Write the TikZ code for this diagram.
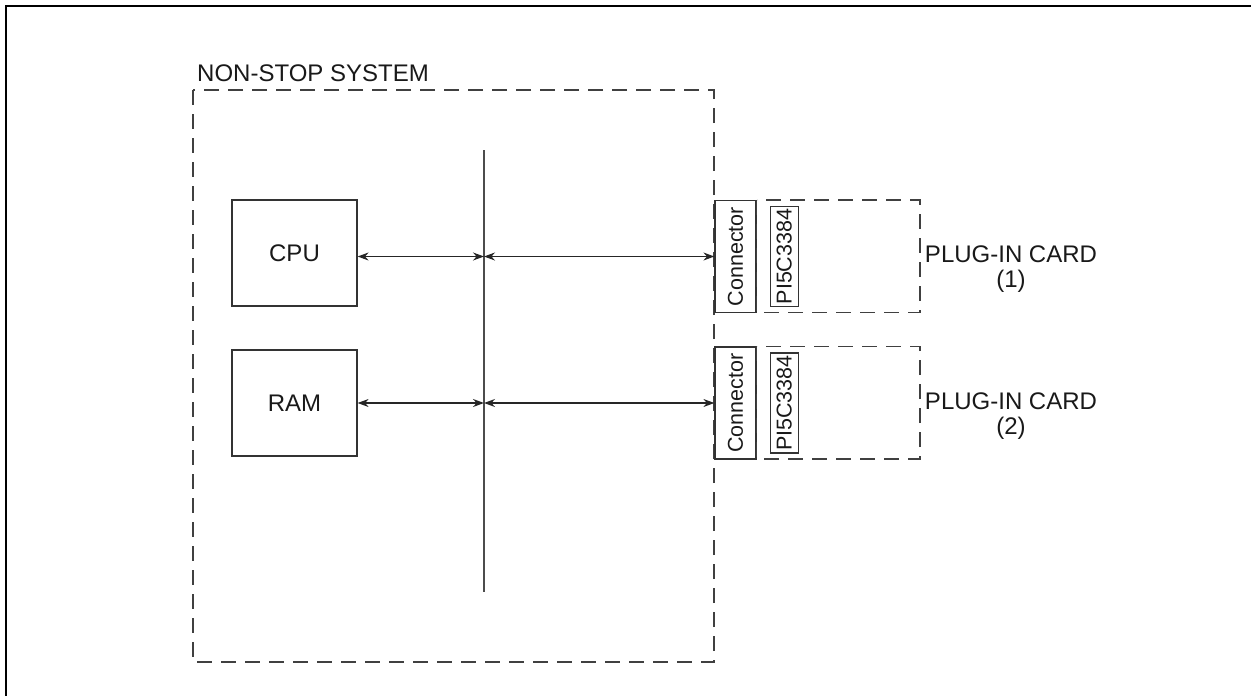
\documentclass[tikz,border=0pt]{standalone}
\usepackage{fontspec}
\setmainfont{Liberation Sans}
\usetikzlibrary{
    positioning,
    arrows.meta
    }

\begin{document}
\begin{tikzpicture}[x=1pt, y=-1pt]
\tikzset{frame/.style =
        {
            line width=1.6pt,
            draw=black
        }
}

\tikzset{sysbox/.style =
        {
            line width=1.3pt,
            draw=black!75,
            dash pattern=on 15pt off 9pt
        }
}

\tikzset{block/.style =
        {
            shape=rectangle,
            line width=1.2pt,
            draw=black!80,
            minimum width=125pt,
            minimum height=106pt,
            inner sep=0pt,
            text=black!90,
            font=\fontsize{24}{28}\selectfont
        }
}

\tikzset{conn/.style =
        {
            block,
            minimum width=41pt,
            minimum height=112pt,
            font=\fontsize{21.5}{24}\selectfont
        }
}

\tikzset{chip/.style =
        {
            conn,
            minimum width=28pt,
            minimum height=100pt,
            font=\fontsize{21.5}{22}\selectfont
        }
}

\tikzset{label/.style =
        {
            text=black!90,
            inner sep=0pt,
            font=\fontsize{24}{25}\selectfont
        }
}

\tikzset{bus/.style = {
            line width=1.3pt,
            draw=black!85,
            {Stealth[length=11pt, width=8pt]}-{Stealth[length=11pt, width=8pt]}
        }
}
		\useasboundingbox (0,0) rectangle (1251,696);
		\draw[frame] (1251,6) -- (6,6) -- (6,696);

		\draw[sysbox] (193,90) rectangle (714,662);
		\node[label, anchor=base west] (title) at (197,81) {NON-STOP SYSTEM};

		\coordinate (bustop) at (484,150);
		\coordinate (busbot) at (484,592);
		\draw[line width=1.3pt, black!70] (bustop) -- (busbot);

		\node[block] (cpu) at (294.5,253) {CPU};
		\node[block] (ram) at (294.5,403) {RAM};

		\foreach \n / \y / \src in {1/256.5/cpu, 2/403/ram}
		{
			\node[conn] (conn\n) at (735.5,\y) {\rotatebox{90}{Connector}};
			\node[chip, right=13pt of conn\n] (chip\n) {\rotatebox{90}{PI5C3384}};
			\draw[sysbox] (conn\n.north east) rectangle (920,\y+56);
			\node[label, align=center] (card\n) at (1011,\y+13) {PLUG-IN CARD\\(\n)};

			\draw[bus] (\src.east |- conn\n.west) -- (bustop |- conn\n.west);
			\draw[bus] (bustop |- conn\n.west) -- (conn\n.west);
		}
	\end{tikzpicture}
\end{document}
